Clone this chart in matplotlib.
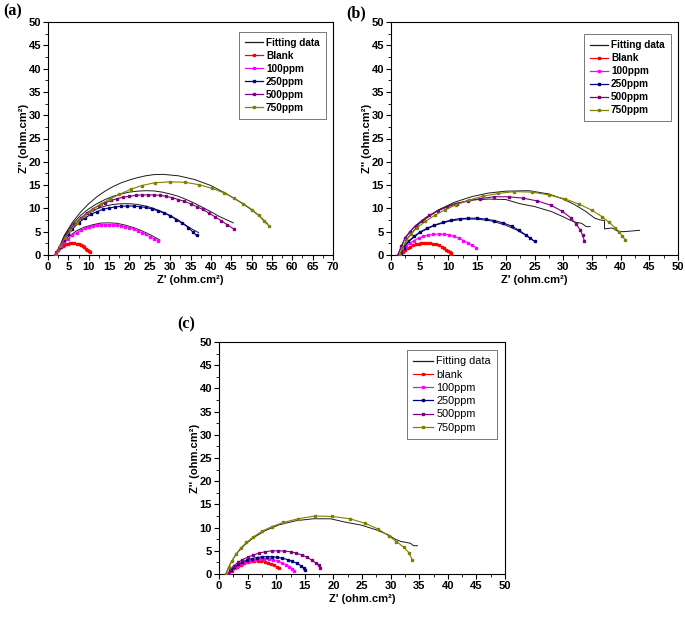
import matplotlib

matplotlib.use("Agg")
import matplotlib.pyplot as plt
from matplotlib.lines import Line2D
from matplotlib.ticker import MultipleLocator

plt.rcParams.update({
    "font.family": ["Liberation Sans", "DejaVu Sans"],
    "font.size": 7.5,
    "axes.linewidth": 0.8,
})

RED = "#ff0000"
MAGENTA = "#ff00ff"
NAVY = "#000080"
PURPLE = "#800080"
OLIVE = "#808000"
FIT = "#1a1a1a"

# ---------------- panel (a) ----------------
a_blank_x = [1.7, 2.0, 2.4, 2.8, 3.2, 3.6, 4.0, 4.5, 5.0, 5.5, 6.0, 6.5, 7.0, 7.5, 8.0, 8.5, 8.9, 9.3, 9.7, 10.0, 10.3]
a_blank_y = [0, 0.6, 1.1, 1.45, 1.75, 2.0, 2.15, 2.3, 2.45, 2.5, 2.55, 2.5, 2.45, 2.35, 2.15, 1.9, 1.65, 1.35, 1.05, 0.8, 0.6]
a_100_x = [1.8, 2.5, 3.2, 4.0, 5.0, 6.0, 7.0, 8.0, 9.0, 10.0, 11.0, 12.0, 13.0, 14.0, 15.0, 16.0, 17.0, 18.0,
           19.0, 20.0, 21.0, 22.0, 23.0, 24.0, 25.0, 26.0, 27.0]
a_100_y = [0, 1.0, 1.9, 2.7, 3.5, 4.2, 4.8, 5.3, 5.7, 6.0, 6.2, 6.35, 6.45, 6.5, 6.5, 6.5, 6.4, 6.3,
           6.1, 5.85, 5.55, 5.2, 4.8, 4.4, 3.95, 3.5, 3.1]
a_250_x = [2.0, 3.0, 4.0, 5.0, 6.0, 7.5, 9.0, 10.5, 12.0, 13.5, 15.0, 16.5, 18.0, 19.5, 21.0, 22.5, 24.0, 25.5,
           27.0, 28.5, 30.0, 31.5, 33.0, 34.5, 35.5, 36.5]
a_250_y = [0, 1.8, 3.3, 4.5, 5.6, 6.9, 7.9, 8.7, 9.3, 9.8, 10.1, 10.3, 10.45, 10.5, 10.5, 10.4, 10.2, 9.9,
           9.5, 9.0, 8.4, 7.6, 6.8, 5.9, 5.0, 4.2]
a_500_x = [2.0, 3.0, 4.0, 5.0, 6.5, 8.0, 9.5, 11.0, 12.5, 14.0, 15.5, 17.0, 18.5, 20.0, 21.5, 23.0, 24.5, 26.0,
           27.5, 29.0, 30.5, 32.0, 33.5, 35.0, 36.5, 38.0, 39.5, 41.0, 42.5, 44.0, 45.8]
a_500_y = [0, 2.0, 3.7, 5.0, 6.6, 7.9, 9.0, 9.9, 10.6, 11.2, 11.7, 12.1, 12.4, 12.6, 12.8, 12.9, 12.9, 12.9,
           12.8, 12.6, 12.3, 11.9, 11.5, 11.0, 10.4, 9.8, 9.0, 8.2, 7.4, 6.5, 5.5]
a_750_x = [2.0, 3.0, 4.2, 5.5, 7.0, 8.8, 10.8, 13.0, 15.2, 17.5, 20.3, 23.0, 26.2, 30.0, 33.7, 37.0, 40.3, 43.3,
           45.7, 48.0, 50.2, 51.8, 53.0, 54.2]
a_750_y = [0, 1.9, 3.7, 5.3, 6.8, 8.3, 9.7, 11.0, 12.0, 13.0, 14.1, 14.9, 15.5, 15.7, 15.6, 15.1, 14.3, 13.3,
           12.2, 11.0, 9.7, 8.5, 7.3, 6.3]
a_fit100_x = [1.8, 3.0, 5.0, 7.0, 9.0, 11.0, 13.0, 15.0, 17.0, 19.0, 21.0, 23.0, 25.0, 27.5]
a_fit100_y = [0, 1.9, 3.9, 5.2, 6.0, 6.5, 6.85, 6.9, 6.8, 6.4, 5.9, 5.2, 4.4, 3.2]
a_fit250_x = [2, 4, 6, 8, 10, 12, 14, 16, 18, 20, 22, 24, 26, 28, 30, 32, 34, 35.5, 37]
a_fit250_y = [0, 3.6, 6.0, 7.8, 9.0, 9.9, 10.5, 10.85, 11.0, 11.0, 10.85, 10.5, 10.0, 9.3, 8.5, 7.5, 6.3, 5.5, 4.8]
a_fit500_x = [2, 4, 6, 8, 10, 12, 14, 16, 18, 20, 22, 24, 26, 28, 30, 32, 34, 36, 38, 40, 42, 44, 45.5]
a_fit500_y = [0, 4.0, 6.6, 8.5, 9.9, 11.0, 11.9, 12.6, 13.1, 13.5, 13.7, 13.8, 13.75, 13.5, 13.1, 12.6, 11.9,
              11.1, 10.2, 9.3, 8.3, 7.5, 6.9]
a_fit750_x = [2, 4, 6, 8, 10, 12, 14, 16, 18, 20, 22, 24, 26, 28.3, 32, 36, 40, 43.5, 46, 48, 50, 52, 54]
a_fit750_y = [0, 4.2, 7.0, 9.2, 11.0, 12.5, 13.7, 14.7, 15.5, 16.1, 16.6, 17.0, 17.25, 17.3, 17.0, 16.2, 14.9,
              13.3, 12.0, 10.9, 9.7, 8.3, 6.6]

# ---------------- panel (b) ----------------
b_blank_x = [1.8, 2.1, 2.5, 2.9, 3.3, 3.8, 4.3, 4.8, 5.3, 5.8, 6.3, 6.8, 7.3, 7.8, 8.3, 8.8, 9.2, 9.6, 9.9, 10.2, 10.4, 10.5]
b_blank_y = [0, 0.6, 1.05, 1.45, 1.75, 2.05, 2.3, 2.45, 2.55, 2.6, 2.6, 2.55, 2.45, 2.3, 2.05, 1.8, 1.5, 1.15, 0.85, 0.55, 0.35, 0.2]
b_100_x = [1.5, 2.0, 2.6, 3.3, 4.0, 4.8, 5.6, 6.5, 7.4, 8.3, 9.2, 10.1, 11.0, 11.8, 12.6, 13.4, 14.1, 14.8]
b_100_y = [0, 1.0, 1.8, 2.5, 3.1, 3.6, 4.0, 4.3, 4.45, 4.5, 4.45, 4.3, 4.0, 3.6, 3.1, 2.6, 2.1, 1.6]
b_250_x = [1.7, 2.2, 3.0, 4.0, 5.0, 6.2, 7.5, 9.0, 10.5, 12.0, 13.5, 15.0, 16.5, 18.0, 19.5, 21.0, 22.3,
           23.5, 24.3, 25.0]
b_250_y = [0, 1.5, 2.9, 4.0, 4.9, 5.7, 6.4, 7.0, 7.5, 7.8, 7.9, 7.9, 7.7, 7.4, 6.9, 6.2, 5.3, 4.3, 3.6, 2.9]
b_500_x = [1.2, 1.8, 2.5, 3.3, 4.3, 5.4, 6.7, 8.2, 9.8, 11.5, 13.5, 15.5, 18.0, 20.5, 23.0, 25.5, 27.8,
           29.8, 31.3, 32.3, 33.0, 33.4, 33.7]
b_500_y = [0, 2.0, 3.6, 5.0, 6.3, 7.4, 8.5, 9.5, 10.3, 11.0, 11.6, 12.1, 12.5, 12.5, 12.2, 11.6, 10.7,
           9.4, 8.0, 6.6, 5.3, 4.2, 3.0]
b_750_x = [1.5, 2.0, 2.7, 3.5, 4.6, 6.0, 7.6, 9.4, 11.4, 13.6, 16.0, 18.6, 21.5, 24.5, 27.5, 30.4, 32.8,
           35.0, 36.8, 38.0, 39.0, 39.8, 40.3, 40.8]
b_750_y = [0, 1.6, 3.2, 4.5, 5.9, 7.2, 8.5, 9.7, 10.8, 11.8, 12.6, 13.2, 13.6, 13.5, 12.9, 12.0, 10.9,
           9.6, 8.2, 7.0, 5.9, 5.0, 4.0, 3.3]
b_fit250_x = [1.7, 3.0, 5.0, 7.5, 10.0, 12.5, 15.0, 17.5, 20.0, 22.0, 23.5, 24.8]
b_fit250_y = [0, 2.8, 4.8, 6.3, 7.2, 7.7, 7.7, 7.3, 6.4, 5.3, 4.2, 3.1]
b_fit500_x = [1.2, 2.5, 4.0, 6.0, 8.5, 11.0, 14.0, 17.0, 20.0, 22.5, 25.0, 28.0, 30.0, 31.5, 32.3, 33.2, 34.0, 34.7]
b_fit500_y = [0, 3.8, 6.0, 8.0, 9.8, 11.0, 11.8, 12.0, 11.9, 11.0, 10.4, 9.3, 8.2, 7.3, 7.0, 6.8, 6.1, 6.1]
b_fit750_x = [1.5, 3.0, 5.0, 8.0, 11.0, 14.0, 17.0, 20.0, 24.0, 27.5, 30.0, 32.0, 34.0, 35.5, 36.5, 37.2,
              37.2, 38.5, 39.5, 40.5, 43.3]
b_fit750_y = [0, 3.8, 6.8, 9.5, 11.3, 12.5, 13.3, 13.7, 13.8, 13.1, 12.0, 10.8, 9.3, 7.9, 7.5, 7.4,
              5.6, 5.8, 5.1, 5.0, 5.3]

# ---------------- panel (c) ----------------
c_blank_x = [1.8, 2.2, 2.7, 3.2, 3.8, 4.4, 5.0, 5.6, 6.2, 6.8, 7.4, 8.0, 8.6, 9.1, 9.6, 10.1, 10.5]
c_blank_y = [0, 0.7, 1.2, 1.6, 2.0, 2.3, 2.55, 2.7, 2.8, 2.8, 2.75, 2.6, 2.4, 2.1, 1.85, 1.55, 1.3]
c_100_x = [1.7, 2.2, 2.8, 3.4, 4.1, 4.8, 5.5, 6.3, 7.1, 7.9, 8.7, 9.5, 10.3, 11.0, 11.7, 12.3, 12.8, 13.1]
c_100_y = [0, 0.8, 1.3, 1.8, 2.2, 2.55, 2.8, 3.0, 3.15, 3.2, 3.15, 3.0, 2.75, 2.4, 2.0, 1.6, 1.1, 0.7]
c_250_x = [1.6, 2.1, 2.7, 3.4, 4.1, 4.9, 5.7, 6.6, 7.5, 8.4, 9.3, 10.2, 11.1, 12.0, 12.8, 13.6, 14.3, 14.8, 15.0]
c_250_y = [0, 0.9, 1.5, 2.1, 2.6, 3.0, 3.3, 3.55, 3.7, 3.75, 3.7, 3.6, 3.4, 3.1, 2.75, 2.3, 1.8, 1.3, 0.9]
c_500_x = [1.5, 2.0, 2.6, 3.3, 4.1, 5.0, 6.0, 7.0, 8.1, 9.2, 10.3, 11.4, 12.5, 13.5, 14.5, 15.4, 16.2, 16.9, 17.4, 17.7]
c_500_y = [0, 1.0, 1.8, 2.5, 3.1, 3.6, 4.1, 4.5, 4.8, 5.0, 5.0, 4.95, 4.8, 4.5, 4.1, 3.6, 3.0, 2.4, 1.9, 1.4]
c_750_x = [1.2, 1.7, 2.3, 3.0, 3.8, 4.8, 6.0, 7.5, 9.2, 11.2, 13.8, 16.8, 19.8, 22.9, 25.6, 27.8, 29.7,
           31.0, 32.3, 33.2, 33.8]
c_750_y = [0, 1.5, 2.9, 4.3, 5.6, 6.8, 8.0, 9.2, 10.2, 11.1, 11.9, 12.5, 12.4, 11.9, 10.9, 9.7, 8.2,
           7.0, 5.8, 4.6, 3.0]
c_fit750_x = [1.2, 2.0, 3.0, 4.5, 6.0, 8.0, 10.5, 13.5, 16.5, 19.5, 22.0, 25.0, 27.5, 29.5, 30.8, 31.8,
              32.8, 33.5, 34.0, 34.7]
c_fit750_y = [0, 2.3, 4.3, 6.3, 7.8, 9.3, 10.6, 11.5, 11.9, 11.9, 11.2, 10.5, 9.5, 8.5, 7.5, 7.0,
              6.8, 6.6, 6.1, 6.1]

series_labels_ab = ["Blank", "100ppm", "250ppm", "500ppm", "750ppm"]
series_labels_c = ["blank", "100ppm", "250ppm", "500ppm", "750ppm"]
series_colors = [RED, MAGENTA, NAVY, PURPLE, OLIVE]

fig = plt.figure(figsize=(6.85, 6.18), dpi=100)
W, H = 685, 618


def add_panel(x0, y_top, x1, y_bot):
    return fig.add_axes([x0 / W, 1 - y_bot / H, (x1 - x0) / W, (y_bot - y_top) / H])


def style(ax, xmax):
    ax.set_xlim(0, xmax)
    ax.set_ylim(0, 50)
    ax.xaxis.set_major_locator(MultipleLocator(5))
    ax.yaxis.set_major_locator(MultipleLocator(5))
    ax.xaxis.set_minor_locator(MultipleLocator(2.5))
    ax.yaxis.set_minor_locator(MultipleLocator(2.5))
    ax.tick_params(which="major", direction="out", length=3.5, width=0.8, labelsize=8, pad=1.5)
    ax.tick_params(which="minor", direction="out", length=2, width=0.6)
    for lab in ax.get_xticklabels() + ax.get_yticklabels():
        lab.set_fontweight("bold")
    ax.set_xlabel("Z' (ohm.cm²)", fontsize=8, fontweight="bold", labelpad=2)
    ax.set_ylabel("Z'' (ohm.cm²)", fontsize=8, fontweight="bold", labelpad=0)


def draw(ax, data, fits, labels, bold, leg_bbox):
    for (xs, ys), col in zip(data, series_colors):
        ax.plot(xs, ys, color=col, lw=0.8, marker="s", ms=1.5, mec=col, zorder=3)
    for xs, ys in fits:
        ax.plot(xs, ys, color=FIT, lw=0.7, zorder=2)
    handles = [Line2D([], [], color=FIT, lw=0.9)]
    handles += [Line2D([], [], color=c, lw=0.9, marker="s", ms=1.8) for c in series_colors]
    size = 7.2 if bold else 7.8
    leg = ax.legend(handles, ["Fitting data"] + labels, loc="upper right", bbox_to_anchor=leg_bbox,
                    frameon=True, fancybox=False, edgecolor="#555555",
                    handlelength=1.8, handletextpad=0.35, labelspacing=0.3, borderpad=0.6,
                    borderaxespad=0.3, prop={"weight": "bold" if bold else "normal", "size": size})
    leg.get_frame().set_linewidth(0.7)


# (a)
ax_a = add_panel(48, 22, 333, 255)
style(ax_a, 70)
draw(ax_a,
     [(a_blank_x, a_blank_y), (a_100_x, a_100_y), (a_250_x, a_250_y), (a_500_x, a_500_y), (a_750_x, a_750_y)],
     [(a_fit100_x, a_fit100_y), (a_fit250_x, a_fit250_y), (a_fit500_x, a_fit500_y), (a_fit750_x, a_fit750_y)],
     series_labels_ab, True, (0.985, 0.97))

# (b)
ax_b = add_panel(391, 22, 678, 255)
style(ax_b, 50)
draw(ax_b,
     [(b_blank_x, b_blank_y), (b_100_x, b_100_y), (b_250_x, b_250_y), (b_500_x, b_500_y), (b_750_x, b_750_y)],
     [(b_fit250_x, b_fit250_y), (b_fit500_x, b_fit500_y), (b_fit750_x, b_fit750_y)],
     series_labels_ab, True, (0.985, 0.96))

# (c)
ax_c = add_panel(219, 342, 505, 574)
style(ax_c, 50)
draw(ax_c,
     [(c_blank_x, c_blank_y), (c_100_x, c_100_y), (c_250_x, c_250_y), (c_500_x, c_500_y), (c_750_x, c_750_y)],
     [(c_fit750_x, c_fit750_y)],
     series_labels_c, False, (0.985, 0.98))

for label, px, py in [("(a)", 3, 11), ("(b)", 346, 13), ("(c)", 177, 324)]:
    fig.text(px / W, 1 - py / H, label, family=["Liberation Serif", "DejaVu Serif"], fontsize=11.5,
             fontweight="bold", ha="left", va="center")

fig.savefig("out.png", dpi=100, facecolor="white")
